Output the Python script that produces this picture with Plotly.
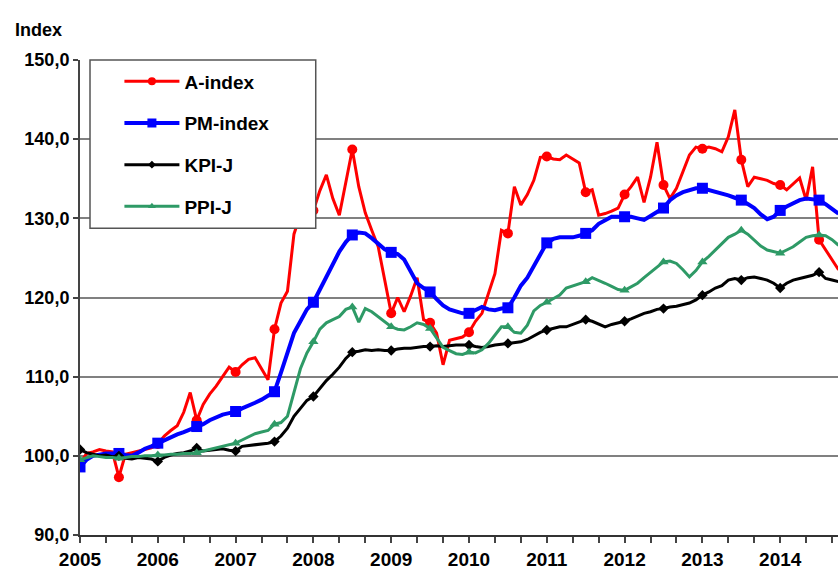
import plotly.graph_objects as go

# Monthly data, Jan 2005 onward
start_year = 2005
a_index = [99.0, 100.3, 100.5, 100.8, 100.6, 100.5, 97.3, 100.2, 100.4, 100.6, 100.8, 101.0,
           101.5, 102.5, 103.2, 103.8, 105.5, 108.0, 104.5, 106.5, 107.8, 108.8, 110.0, 111.2,
           110.6, 111.5, 112.2, 112.4, 111.0, 109.6, 116.0, 119.3, 120.8, 128.0, 130.5, 132.0,
           131.0, 133.5, 135.5, 132.5, 130.4, 134.5, 138.7, 134.0, 130.7, 128.5, 126.4, 122.2,
           118.0, 120.0, 118.2, 120.2, 122.5, 117.2, 116.8, 115.5, 111.5, 114.6, 114.8, 115.0,
           115.6, 117.0, 118.0, 120.5, 123.0, 128.5, 128.1, 134.0, 131.7, 133.0, 134.8, 137.7,
           137.8, 137.5, 137.4, 138.0, 137.5, 137.0, 133.3, 133.6, 130.4, 130.6, 130.9, 131.3,
           133.0, 134.0, 135.2, 132.0, 135.2, 139.6, 134.2, 132.5, 133.8, 135.8, 138.0, 139.0,
           138.8, 139.0, 138.8, 138.4, 140.3, 143.7, 137.4, 134.0, 135.2, 135.0, 134.8, 134.4,
           134.2, 133.6, 134.3, 135.1, 132.3, 136.5, 127.3, 126.0, 124.7, 123.5]

pm_index = [98.6, 99.5, 100.0, 100.2, 100.3, 100.3, 100.3, 100.1, 100.0, 100.4, 100.9, 101.2,
            101.6, 102.0, 102.3, 102.7, 103.0, 103.3, 103.7, 104.0, 104.5, 104.9, 105.2, 105.4,
            105.6, 106.0, 106.3, 106.7, 107.1, 107.6, 108.1, 110.5, 113.0, 115.5, 117.0, 118.5,
            119.4, 121.0, 122.6, 124.3, 125.8, 127.0, 127.9, 128.2, 128.1, 127.5, 126.8, 126.1,
            125.7, 125.5, 124.8, 123.2, 121.8, 121.2, 120.7, 119.8, 119.0, 118.5, 118.2, 118.0,
            118.0, 118.4, 118.8, 118.5, 118.4, 118.6, 118.7, 120.0, 121.5, 122.5, 124.0, 125.5,
            126.9, 127.4, 127.6, 127.6, 127.6, 127.8, 128.1, 128.5, 129.3, 129.8, 130.2, 130.2,
            130.2, 130.2, 130.0, 129.8, 130.3, 130.8, 131.3, 132.3, 132.9, 133.3, 133.6, 133.8,
            133.8, 133.6, 133.3, 133.1, 132.9, 132.6, 132.3, 131.8, 131.3, 130.5, 129.9, 130.2,
            131.0, 131.5, 131.9, 132.3, 132.5, 132.4, 132.3, 131.8, 131.2, 130.6]

kpi_j = [100.8, 100.4, 100.2, 100.0, 100.1, 99.9, 100.0, 99.7, 99.6, 99.8, 99.7, 99.6,
         99.3, 99.8, 100.1, 100.3, 100.4, 100.6, 101.0, 100.6, 100.7, 100.8, 100.9, 100.7,
         100.6, 101.2, 101.3, 101.4, 101.5, 101.6, 101.8, 102.5, 103.5, 105.0, 106.0, 107.0,
         107.5, 108.5, 109.5, 110.3, 111.2, 112.3, 113.1, 113.2, 113.4, 113.3, 113.4, 113.3,
         113.3, 113.5, 113.6, 113.6, 113.7, 113.8, 113.8, 113.9, 113.8, 113.9, 114.0, 114.0,
         114.0, 113.8, 113.7, 113.8, 114.0, 114.1, 114.2, 114.3, 114.4, 114.7, 115.2, 115.6,
         115.9, 116.1, 116.3, 116.3, 116.6, 116.9, 117.2, 117.0, 116.6, 116.3, 116.6, 116.8,
         117.0, 117.3, 117.6, 118.0, 118.2, 118.5, 118.6, 118.8, 118.9, 119.1, 119.3, 119.7,
         120.3, 120.7, 121.2, 121.5, 122.2, 122.4, 122.2, 122.5, 122.6, 122.4, 122.2, 121.8,
         121.2, 121.8, 122.2, 122.4, 122.6, 122.8, 123.2, 122.4, 122.2, 122.0]

ppi_j = [99.5, 99.8, 100.0, 99.9, 99.8, 99.8, 99.7, 99.8, 99.9, 99.9, 100.0, 100.0,
         100.1, 100.1, 100.2, 100.2, 100.3, 100.3, 100.4, 100.6, 100.8, 101.0, 101.2, 101.4,
         101.6, 102.0, 102.4, 102.8, 103.0, 103.2, 104.0, 104.2, 105.0, 108.0, 111.0, 113.0,
         114.4, 116.0, 116.8, 117.2, 117.6, 118.5, 118.8, 116.9, 118.6, 118.2, 117.6, 117.0,
         116.3, 116.0, 115.9, 116.3, 116.8, 116.6, 116.1, 114.9, 113.7, 113.3, 112.9, 112.8,
         113.1, 113.0, 113.4, 114.2, 115.2, 116.3, 116.3, 115.6, 115.5, 116.5, 118.3, 119.0,
         119.4, 119.8, 120.3, 121.2, 121.5, 121.8, 122.0, 122.5, 122.2, 121.8, 121.4, 121.0,
         120.9, 121.4, 121.8, 122.5, 123.2, 123.8, 124.5, 124.6, 124.3, 123.5, 122.6, 123.4,
         124.5, 125.2, 126.0, 126.8, 127.6, 128.0, 128.5, 128.0, 127.2, 126.5, 126.0, 125.8,
         125.6, 126.0, 126.4, 127.0, 127.6, 127.8, 127.9, 127.8, 127.3, 126.6]

year_ticks = list(range(2005, 2015))
year_labels = [str(y) for y in year_ticks]
y_ticks = [90, 100, 110, 120, 130, 140, 150]
y_labels = ["90,0", "100,0", "110,0", "120,0", "130,0", "140,0", "150,0"]

series = [
    ("A-index", a_index, "#ff0000", 3, "circle", 10),
    ("PM-index", pm_index, "#0000ff", 4, "square", 11),
    ("KPI-J", kpi_j, "#000000", 3, "diamond", 8),
    ("PPI-J", ppi_j, "#2e9a66", 3, "triangle-up", 9),
]

FONT = "Arial, Liberation Sans, sans-serif"
fig = go.Figure()
for k, (name, vals, color, lw, sym, ms) in enumerate(series):
    xs = [start_year + i / 12 for i in range(len(vals))]
    fig.add_trace(go.Scatter(x=xs, y=vals, mode="lines", name=name,
                             line=dict(color=color, width=lw),
                             showlegend=False, legendgroup=name, hoverinfo="skip"))
    fig.add_trace(go.Scatter(x=xs[::6], y=vals[::6], mode="markers", name=name,
                             marker=dict(color=color, size=ms, symbol=sym),
                             showlegend=False, legendgroup=name))
    fig.add_trace(go.Scatter(x=[None], y=[None], mode="lines+markers", name=name,
                             line=dict(color=color, width=lw),
                             marker=dict(color=color, size=ms - 2, symbol=sym),
                             showlegend=True, legendgroup=name))

fig.add_shape(type="rect", xref="paper", yref="paper",
              x0=0.0132, x1=0.311, y0=0.646, y1=1.0,
              line=dict(color="#555555", width=1.5), fillcolor="white", layer="above")

fig.update_layout(
    width=838, height=572,
    margin=dict(l=80, r=0, t=60, b=37),
    paper_bgcolor="white", plot_bgcolor="white",
    font=dict(family=FONT, color="black"),
    showlegend=True,
    legend=dict(x=0.052, y=0.995, xanchor="left", yanchor="top",
                bgcolor="rgba(0,0,0,0)", borderwidth=0,
                font=dict(size=19, family=FONT, color="black", weight="bold"),
                tracegroupgap=14, itemwidth=55),
    xaxis=dict(range=[2005, 2014.743], tickmode="array", tickvals=year_ticks, ticktext=year_labels,
               ticks="outside", ticklen=6, tickcolor="#444", tickwidth=1.5,
               minor=dict(dtick=1/3, tick0=2005, ticks="outside", ticklen=6, tickcolor="#444", showgrid=False),
               showline=True, linecolor="#333", linewidth=2, showgrid=False, zeroline=False,
               tickfont=dict(size=19, family=FONT, color="black", weight="bold")),
    yaxis=dict(range=[90, 150], tickmode="array", tickvals=y_ticks, ticktext=y_labels,
               ticks="outside", ticklen=5, tickcolor="#444", tickwidth=1.5,
               showline=True, linecolor="#444", linewidth=2,
               showgrid=True, gridcolor="#808080", gridwidth=1.5, zeroline=False,
               tickfont=dict(size=18, family=FONT, color="black", weight="bold")),
    annotations=[dict(text="Index", xref="paper", yref="paper", x=-0.088, y=1.0,
                      xanchor="left", yanchor="bottom", yshift=18, showarrow=False,
                      font=dict(size=18, family=FONT, color="black", weight="bold"))],
)

fig.write_html("out.html", config={"displayModeBar": False},
               post_script="document.body.style.margin='0';document.body.style.overflow='hidden';")
